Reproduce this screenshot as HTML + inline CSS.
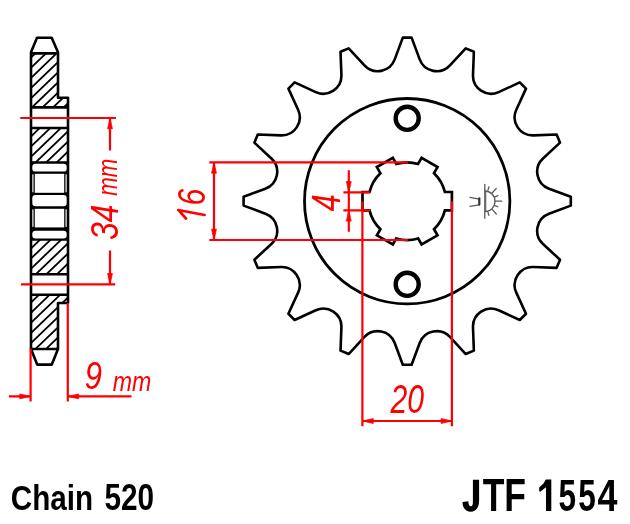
<!DOCTYPE html><html><head><meta charset="utf-8"><style>html,body{margin:0;padding:0;background:#fff;width:630px;height:524px;overflow:hidden}svg{display:block;will-change:transform}text{font-family:"Liberation Sans",sans-serif}</style></head><body>
<svg width="630" height="524" viewBox="0 0 630 524">
<defs>
<clipPath id="hA"><path d="M31.0 53.4 L58.0 53.4 L58.0 97.8 L68.0 97.8 L68.0 107.4 L31.0 107.4 Z"/></clipPath>
<clipPath id="hB"><rect x="31.0" y="128" width="37.0" height="34.5"/></clipPath>
<clipPath id="hC"><rect x="31.0" y="239.4" width="37.0" height="34.8"/></clipPath>
<clipPath id="hD"><path d="M31.0 294.7 L68.0 294.7 L68.0 303 L58.0 303 L58.0 349 L31.0 349 Z"/></clipPath>
</defs>
<path clip-path="url(#hA)" d="M20 27.55 L80 -30.05 M20 37.7 L80 -19.9 M20 47.85 L80 -9.75 M20 58 L80 0.4 M20 68.15 L80 10.55 M20 78.3 L80 20.7 M20 88.45 L80 30.85 M20 98.6 L80 41 M20 108.75 L80 51.15 M20 118.9 L80 61.3 M20 129.05 L80 71.45 M20 139.2 L80 81.6 M20 149.35 L80 91.75 M20 159.5 L80 101.9 M20 169.65 L80 112.05 M20 179.8 L80 122.2 M20 189.95 L80 132.35 M20 200.1 L80 142.5 M20 210.25 L80 152.65 M20 220.4 L80 162.8 M20 230.55 L80 172.95 M20 240.7 L80 183.1 M20 250.85 L80 193.25 M20 261 L80 203.4 M20 271.15 L80 213.55 M20 281.3 L80 223.7 M20 291.45 L80 233.85 M20 301.6 L80 244 M20 311.75 L80 254.15 M20 321.9 L80 264.3 M20 332.05 L80 274.45 M20 342.2 L80 284.6 M20 352.35 L80 294.75 M20 362.5 L80 304.9 M20 372.65 L80 315.05 M20 382.8 L80 325.2 M20 392.95 L80 335.35 M20 403.1 L80 345.5 M20 413.25 L80 355.65 M20 423.4 L80 365.8" stroke="#000" stroke-width="1.8" fill="none"/>
<path clip-path="url(#hB)" d="M20 25.15 L80 -32.45 M20 35.3 L80 -22.3 M20 45.45 L80 -12.15 M20 55.6 L80 -2 M20 65.75 L80 8.15 M20 75.9 L80 18.3 M20 86.05 L80 28.45 M20 96.2 L80 38.6 M20 106.35 L80 48.75 M20 116.5 L80 58.9 M20 126.65 L80 69.05 M20 136.8 L80 79.2 M20 146.95 L80 89.35 M20 157.1 L80 99.5 M20 167.25 L80 109.65 M20 177.4 L80 119.8 M20 187.55 L80 129.95 M20 197.7 L80 140.1 M20 207.85 L80 150.25 M20 218 L80 160.4 M20 228.15 L80 170.55 M20 238.3 L80 180.7 M20 248.45 L80 190.85 M20 258.6 L80 201 M20 268.75 L80 211.15 M20 278.9 L80 221.3 M20 289.05 L80 231.45 M20 299.2 L80 241.6 M20 309.35 L80 251.75 M20 319.5 L80 261.9 M20 329.65 L80 272.05 M20 339.8 L80 282.2 M20 349.95 L80 292.35 M20 360.1 L80 302.5 M20 370.25 L80 312.65 M20 380.4 L80 322.8 M20 390.55 L80 332.95 M20 400.7 L80 343.1 M20 410.85 L80 353.25 M20 421 L80 363.4" stroke="#000" stroke-width="1.8" fill="none"/>
<path clip-path="url(#hC)" d="M20 25.5 L80 -32.1 M20 35.65 L80 -21.95 M20 45.8 L80 -11.8 M20 55.95 L80 -1.65 M20 66.1 L80 8.5 M20 76.25 L80 18.65 M20 86.4 L80 28.8 M20 96.55 L80 38.95 M20 106.7 L80 49.1 M20 116.85 L80 59.25 M20 127 L80 69.4 M20 137.15 L80 79.55 M20 147.3 L80 89.7 M20 157.45 L80 99.85 M20 167.6 L80 110 M20 177.75 L80 120.15 M20 187.9 L80 130.3 M20 198.05 L80 140.45 M20 208.2 L80 150.6 M20 218.35 L80 160.75 M20 228.5 L80 170.9 M20 238.65 L80 181.05 M20 248.8 L80 191.2 M20 258.95 L80 201.35 M20 269.1 L80 211.5 M20 279.25 L80 221.65 M20 289.4 L80 231.8 M20 299.55 L80 241.95 M20 309.7 L80 252.1 M20 319.85 L80 262.25 M20 330 L80 272.4 M20 340.15 L80 282.55 M20 350.3 L80 292.7 M20 360.45 L80 302.85 M20 370.6 L80 313 M20 380.75 L80 323.15 M20 390.9 L80 333.3 M20 401.05 L80 343.45 M20 411.2 L80 353.6 M20 421.35 L80 363.75" stroke="#000" stroke-width="1.8" fill="none"/>
<path clip-path="url(#hD)" d="M20 28.85 L80 -28.75 M20 39 L80 -18.6 M20 49.15 L80 -8.45 M20 59.3 L80 1.7 M20 69.45 L80 11.85 M20 79.6 L80 22 M20 89.75 L80 32.15 M20 99.9 L80 42.3 M20 110.05 L80 52.45 M20 120.2 L80 62.6 M20 130.35 L80 72.75 M20 140.5 L80 82.9 M20 150.65 L80 93.05 M20 160.8 L80 103.2 M20 170.95 L80 113.35 M20 181.1 L80 123.5 M20 191.25 L80 133.65 M20 201.4 L80 143.8 M20 211.55 L80 153.95 M20 221.7 L80 164.1 M20 231.85 L80 174.25 M20 242 L80 184.4 M20 252.15 L80 194.55 M20 262.3 L80 204.7 M20 272.45 L80 214.85 M20 282.6 L80 225 M20 292.75 L80 235.15 M20 302.9 L80 245.3 M20 313.05 L80 255.45 M20 323.2 L80 265.6 M20 333.35 L80 275.75 M20 343.5 L80 285.9 M20 353.65 L80 296.05 M20 363.8 L80 306.2 M20 373.95 L80 316.35 M20 384.1 L80 326.5 M20 394.25 L80 336.65 M20 404.4 L80 346.8 M20 414.55 L80 356.95 M20 424.7 L80 367.1" stroke="#000" stroke-width="1.8" fill="none"/>
<path d="M37 37.7 L51.7 37.7 L58.0 52.2 L58.0 97.8 L68.0 97.8 L68.0 303 L58.0 303 L58.0 349 L51.8 364.6 L37.2 364.6 L31.0 349 L31.0 52.2 Z M31.0 53.4 L58.0 53.4 M31.0 107.4 L68.0 107.4 M31.0 128 L68.0 128 M31.0 162.6 L68.0 162.6 M31.0 239.4 L68.0 239.4 M31.0 274.2 L68.0 274.2 M31.0 294.7 L68.0 294.7 M31.0 349 L58.0 349" stroke="#000" stroke-width="2.6" fill="none" stroke-linejoin="round"/>
<rect x="31.0" y="162.6" width="37.0" height="76.8" fill="#000"/>
<rect x="32.3" y="163.8" width="34.4" height="7.8" rx="3.2" fill="#fff"/>
<rect x="32.3" y="195.0" width="34.4" height="11.2" rx="3.2" fill="#fff"/>
<rect x="32.3" y="230.8" width="34.4" height="7.6" rx="3.2" fill="#fff"/>
<rect x="34.8" y="173.8" width="29.4" height="19" fill="#fff"/>
<rect x="32.3" y="174.3" width="1.2" height="18" fill="#fff"/>
<rect x="65.5" y="174.3" width="1.2" height="18" fill="#fff"/>
<rect x="34.8" y="208.8" width="29.4" height="18.6" fill="#fff"/>
<rect x="32.3" y="209.3" width="1.2" height="17.6" fill="#fff"/>
<rect x="65.5" y="209.3" width="1.2" height="17.6" fill="#fff"/>
<path d="M402.8 37.6 L411.6 37.6 L419.69 59.4 A18.1 18.1 0 0 0 449.93 65.41 L465.74 48.37 L473.87 51.74 L473 74.97 A18.1 18.1 0 0 0 498.64 92.1 L519.77 82.41 L525.99 88.63 L516.3 109.76 A18.1 18.1 0 0 0 533.43 135.4 L556.66 134.53 L560.03 142.66 L542.99 158.47 A18.1 18.1 0 0 0 549 188.71 L570.8 196.8 L570.8 205.6 L549 213.69 A18.1 18.1 0 0 0 542.99 243.93 L560.03 259.74 L556.66 267.87 L533.43 267 A18.1 18.1 0 0 0 516.3 292.64 L525.99 313.77 L519.77 319.99 L498.64 310.3 A18.1 18.1 0 0 0 473 327.43 L473.87 350.66 L465.74 354.03 L449.93 336.99 A18.1 18.1 0 0 0 419.69 343 L411.6 364.8 L402.8 364.8 L394.71 343 A18.1 18.1 0 0 0 364.47 336.99 L348.66 354.03 L340.53 350.66 L341.4 327.43 A18.1 18.1 0 0 0 315.76 310.3 L294.63 319.99 L288.41 313.77 L298.1 292.64 A18.1 18.1 0 0 0 280.97 267 L257.74 267.87 L254.37 259.74 L271.41 243.93 A18.1 18.1 0 0 0 265.4 213.69 L243.6 205.6 L243.6 196.8 L265.4 188.71 A18.1 18.1 0 0 0 271.41 158.47 L254.37 142.66 L257.74 134.53 L280.97 135.4 A18.1 18.1 0 0 0 298.1 109.76 L288.41 88.63 L294.63 82.41 L315.76 92.1 A18.1 18.1 0 0 0 341.4 74.97 L340.53 51.74 L348.66 48.37 L364.47 65.41 A18.1 18.1 0 0 0 394.71 59.4 Z" stroke="#000" stroke-width="2.6" fill="none" stroke-linejoin="round"/>
<circle cx="407.2" cy="201.2" r="102.7" stroke="#000" stroke-width="2.8" fill="none"/>
<circle cx="407.2" cy="118.3" r="11.55" stroke="#000" stroke-width="4.4" fill="none"/>
<circle cx="407.2" cy="284.3" r="11.55" stroke="#000" stroke-width="4.4" fill="none"/>
<path d="M444.89 210.4 L451.9 210.4 L451.9 192 L444.89 192 A38.8 38.8 0 0 0 434.01 173.16 L434.01 173.16 L437.52 167.09 L421.58 157.89 L418.08 163.96 A38.8 38.8 0 0 0 396.32 163.96 L396.32 163.96 L392.82 157.89 L376.88 167.09 L380.39 173.16 A38.8 38.8 0 0 0 369.51 192 L369.51 192 L362.5 192 L362.5 210.4 L369.51 210.4 A38.8 38.8 0 0 0 380.39 229.24 L380.39 229.24 L376.88 235.31 L392.82 244.51 L396.32 238.44 A38.8 38.8 0 0 0 418.08 238.44 L418.08 238.44 L421.58 244.51 L437.52 235.31 L434.01 229.24 A38.8 38.8 0 0 0 444.89 210.4 Z" stroke="#000" stroke-width="2.7" fill="none" stroke-linejoin="miter"/>
<g stroke="#5a5a5a" stroke-width="1.3" fill="none" stroke-linecap="round">
<path d="M484.8 184.5 L484.8 218.3"/>
<path d="M485.7 191 L485.7 211.6" stroke-width="1.1"/>
<path d="M484.8 191 A10.2 10.3 0 0 1 484.8 211.6"/>
<path d="M487.97 190.15 L488.88 186.97"/>
<path d="M492.16 193.03 L496.31 188.42"/>
<path d="M494.47 197.1 L497.87 195.65"/>
<path d="M495.4 201.2 L501.8 201.2"/>
<path d="M494.47 205.3 L497.87 206.75"/>
<path d="M492.16 209.37 L496.31 213.98"/>
<path d="M487.97 212.25 L488.88 215.43"/>
<path d="M470 197.3 L479.2 199.2 M470 206.4 L479.2 204.8"/>
<path d="M479.3 198.3 L479.3 204.6" stroke="#333" stroke-width="2.2"/>
</g>
<path d="M20.3 118 L115.9 118 M21 284.3 L115.1 284.3 M110 118 L110 150.4 M110 250.5 L110 284.3 M30.6 348.5 L30.6 401.5 M67.8 303 L67.8 401.5 M8.9 396.4 L30.6 396.4 M67.8 396.4 L131.5 396.4 M209.3 162.4 L407.8 162.4 M209.3 240 L407.8 240 M214 162.4 L214 240 M343.4 192.4 L370 192.4 M343.4 210.3 L370 210.3 M348.8 170.3 L348.8 231.8 M362.4 201.2 L362.4 426.2 M451.9 201.2 L451.9 426.2 M362.4 421 L451.9 421" stroke="#ff0000" stroke-width="2.2" fill="none"/>
<path d="M110 118 L112.4 128.8 L107.6 128.8 Z" fill="#ff0000" stroke="#ff0000" stroke-width="0.8" stroke-linejoin="round"/>
<path d="M110 284.3 L107.6 273.5 L112.4 273.5 Z" fill="#ff0000" stroke="#ff0000" stroke-width="0.8" stroke-linejoin="round"/>
<path d="M30.6 396.4 L19.8 398.8 L19.8 394 Z" fill="#ff0000" stroke="#ff0000" stroke-width="0.8" stroke-linejoin="round"/>
<path d="M67.8 396.4 L78.6 394 L78.6 398.8 Z" fill="#ff0000" stroke="#ff0000" stroke-width="0.8" stroke-linejoin="round"/>
<path d="M214 162.4 L216.4 173.2 L211.6 173.2 Z" fill="#ff0000" stroke="#ff0000" stroke-width="0.8" stroke-linejoin="round"/>
<path d="M214 240 L211.6 229.2 L216.4 229.2 Z" fill="#ff0000" stroke="#ff0000" stroke-width="0.8" stroke-linejoin="round"/>
<path d="M348.8 192.4 L346.4 181.6 L351.2 181.6 Z" fill="#ff0000" stroke="#ff0000" stroke-width="0.8" stroke-linejoin="round"/>
<path d="M348.8 210.3 L351.2 221.1 L346.4 221.1 Z" fill="#ff0000" stroke="#ff0000" stroke-width="0.8" stroke-linejoin="round"/>
<path d="M362.4 421 L373.2 418.6 L373.2 423.4 Z" fill="#ff0000" stroke="#ff0000" stroke-width="0.8" stroke-linejoin="round"/>
<path d="M451.9 421 L441.1 423.4 L441.1 418.6 Z" fill="#ff0000" stroke="#ff0000" stroke-width="0.8" stroke-linejoin="round"/>
<text fill="#ff0000" font-style="italic" font-size="100" transform="translate(117.70 240.05) rotate(-90) scale(0.31827 0.39577)">34</text>
<text fill="#ff0000" font-style="italic" font-size="100" transform="translate(117.10 195.75) rotate(-90) scale(0.22250 0.27778)">mm</text>
<text fill="#ff0000" font-style="italic" font-size="100" transform="translate(205.31 205.51) rotate(-90) scale(0.30204 0.39437)">6</text>
<path d="M178.2 210 L204.6 215 M178.8 210.4 L186 218.6" stroke="#ff0000" stroke-width="2.7" stroke-linecap="round" fill="none"/>
<text fill="#ff0000" font-style="italic" font-size="100" transform="translate(340.11 211.21) rotate(-90) scale(0.30588 0.41176)">4</text>
<text fill="#ff0000" font-style="italic" font-size="100" transform="translate(390.50 413.20) scale(0.30182 0.39859)">20</text>
<text fill="#ff0000" font-style="italic" font-size="100" transform="translate(84.76 389.41) scale(0.31000 0.38873)">9</text>
<text fill="#ff0000" font-style="italic" font-size="100" transform="translate(112.84 390.50) scale(0.23125 0.28333)">mm</text>
<text fill="#000" font-weight="bold" font-size="100" stroke="#000" stroke-width="0" transform="translate(10.81 509.54) scale(0.29664 0.35811)">Chain</text>
<text fill="#000" font-weight="bold" font-size="100" stroke="#000" stroke-width="0" transform="translate(104.51 509.53) scale(0.29750 0.37465)">520</text>
<text fill="#000" font-weight="bold" font-size="100" stroke="#000" stroke-width="0" transform="translate(482.64 511.10) scale(0.35556 0.45362)">TF</text>
<path d="M472.9 479.8 L479.1 479.8 L479.1 500.5 C479.1 508 475.6 511.7 470.8 511.7 C465.7 511.7 462.6 508.3 462.5 502 L468.3 501.2 C468.5 504.8 469.4 506.3 470.9 506.3 C472.4 506.3 472.9 505 472.9 501.3 Z" fill="#000"/>
<text fill="#000" font-weight="bold" font-size="100" stroke="#000" stroke-width="0" transform="translate(558.45 510.75) scale(0.31600 0.44857)">5</text>
<text fill="#000" font-weight="bold" font-size="100" stroke="#000" stroke-width="0" transform="translate(578.25 510.75) scale(0.31600 0.44857)">5</text>
<text fill="#000" font-weight="bold" font-size="100" stroke="#000" stroke-width="0" transform="translate(597.58 511.00) scale(0.35849 0.45217)">4</text>
<path d="M545.8 479.6 L551.3 479.6 L551.3 510.9 L546 510.9 L546 487.3 L540.2 491.8 L539.2 491.3 L539.2 487.6 L543.5 483.6 Z" fill="#000"/>
</svg></body></html>
